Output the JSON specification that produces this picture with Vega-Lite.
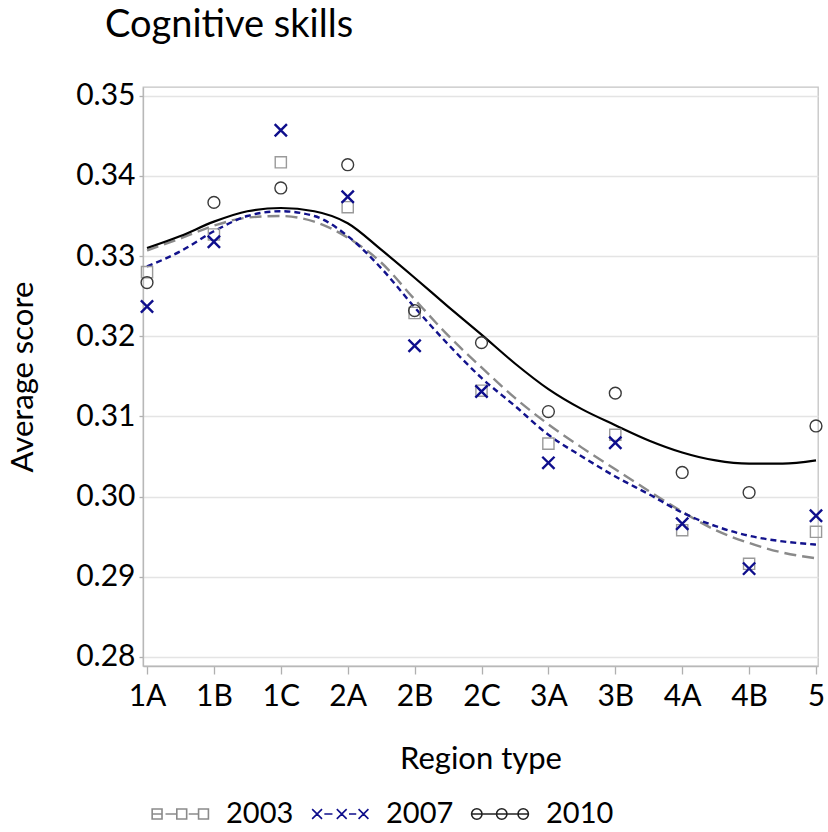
{
  "$schema": "https://vega.github.io/schema/vega-lite/v6.json",
  "width": 675,
  "height": 579,
  "autosize": {"type": "none"},
  "padding": {"left": 143, "top": 87, "right": 10, "bottom": 166},
  "background": "white",
  "title": {
    "text": "Cognitive skills",
    "anchor": "start",
    "frame": "group",
    "dx": -38,
    "offset": 36,
    "font": "Lato",
    "fontSize": 38,
    "fontWeight": "normal",
    "color": "#000000"
  },
  "datasets": {
    "observed": [
      {"region": "1A", "idx": 0, "year": "2003", "score": 0.3280},
      {"region": "1B", "idx": 1, "year": "2003", "score": 0.3327},
      {"region": "1C", "idx": 2, "year": "2003", "score": 0.3417},
      {"region": "2A", "idx": 3, "year": "2003", "score": 0.3361},
      {"region": "2B", "idx": 4, "year": "2003", "score": 0.3229},
      {"region": "2C", "idx": 5, "year": "2003", "score": 0.3132},
      {"region": "3A", "idx": 6, "year": "2003", "score": 0.3066},
      {"region": "3B", "idx": 7, "year": "2003", "score": 0.3077},
      {"region": "4A", "idx": 8, "year": "2003", "score": 0.2958},
      {"region": "4B", "idx": 9, "year": "2003", "score": 0.2916},
      {"region": "5", "idx": 10, "year": "2003", "score": 0.2956},
      {"region": "1A", "idx": 0, "year": "2007", "score": 0.3237},
      {"region": "1B", "idx": 1, "year": "2007", "score": 0.3318},
      {"region": "1C", "idx": 2, "year": "2007", "score": 0.3457},
      {"region": "2A", "idx": 3, "year": "2007", "score": 0.3374},
      {"region": "2B", "idx": 4, "year": "2007", "score": 0.3188},
      {"region": "2C", "idx": 5, "year": "2007", "score": 0.3131},
      {"region": "3A", "idx": 6, "year": "2007", "score": 0.3042},
      {"region": "3B", "idx": 7, "year": "2007", "score": 0.3067},
      {"region": "4A", "idx": 8, "year": "2007", "score": 0.2966},
      {"region": "4B", "idx": 9, "year": "2007", "score": 0.2910},
      {"region": "5", "idx": 10, "year": "2007", "score": 0.2976},
      {"region": "1A", "idx": 0, "year": "2010", "score": 0.3267},
      {"region": "1B", "idx": 1, "year": "2010", "score": 0.3367},
      {"region": "1C", "idx": 2, "year": "2010", "score": 0.3385},
      {"region": "2A", "idx": 3, "year": "2010", "score": 0.3414},
      {"region": "2B", "idx": 4, "year": "2010", "score": 0.3232},
      {"region": "2C", "idx": 5, "year": "2010", "score": 0.3192},
      {"region": "3A", "idx": 6, "year": "2010", "score": 0.3106},
      {"region": "3B", "idx": 7, "year": "2010", "score": 0.3129},
      {"region": "4A", "idx": 8, "year": "2010", "score": 0.3030},
      {"region": "4B", "idx": 9, "year": "2010", "score": 0.3005},
      {"region": "5", "idx": 10, "year": "2010", "score": 0.3088}
    ],
    "fitted": [
      {"idx": 0, "year": "2003", "score": 0.3307},
      {"idx": 0.5, "year": "2003", "score": 0.3322},
      {"idx": 1, "year": "2003", "score": 0.3338},
      {"idx": 1.5, "year": "2003", "score": 0.3348},
      {"idx": 2, "year": "2003", "score": 0.3350},
      {"idx": 2.5, "year": "2003", "score": 0.3343},
      {"idx": 3, "year": "2003", "score": 0.3323},
      {"idx": 3.5, "year": "2003", "score": 0.3292},
      {"idx": 4, "year": "2003", "score": 0.3246},
      {"idx": 4.5, "year": "2003", "score": 0.3201},
      {"idx": 5, "year": "2003", "score": 0.3161},
      {"idx": 5.5, "year": "2003", "score": 0.3123},
      {"idx": 6, "year": "2003", "score": 0.3090},
      {"idx": 6.5, "year": "2003", "score": 0.3061},
      {"idx": 7, "year": "2003", "score": 0.3034},
      {"idx": 7.5, "year": "2003", "score": 0.3007},
      {"idx": 8, "year": "2003", "score": 0.2981},
      {"idx": 8.5, "year": "2003", "score": 0.2958},
      {"idx": 9, "year": "2003", "score": 0.2942},
      {"idx": 9.5, "year": "2003", "score": 0.2930},
      {"idx": 10, "year": "2003", "score": 0.2923},
      {"idx": 0, "year": "2007", "score": 0.3287},
      {"idx": 0.5, "year": "2007", "score": 0.3306},
      {"idx": 1, "year": "2007", "score": 0.3331},
      {"idx": 1.5, "year": "2007", "score": 0.3350},
      {"idx": 2, "year": "2007", "score": 0.3356},
      {"idx": 2.5, "year": "2007", "score": 0.3350},
      {"idx": 3, "year": "2007", "score": 0.3325},
      {"idx": 3.5, "year": "2007", "score": 0.3285},
      {"idx": 4, "year": "2007", "score": 0.3236},
      {"idx": 4.5, "year": "2007", "score": 0.3190},
      {"idx": 5, "year": "2007", "score": 0.3148},
      {"idx": 5.5, "year": "2007", "score": 0.3113},
      {"idx": 6, "year": "2007", "score": 0.3077},
      {"idx": 6.5, "year": "2007", "score": 0.3050},
      {"idx": 7, "year": "2007", "score": 0.3025},
      {"idx": 7.5, "year": "2007", "score": 0.3003},
      {"idx": 8, "year": "2007", "score": 0.2980},
      {"idx": 8.5, "year": "2007", "score": 0.2963},
      {"idx": 9, "year": "2007", "score": 0.2951},
      {"idx": 9.5, "year": "2007", "score": 0.2944},
      {"idx": 10, "year": "2007", "score": 0.2940},
      {"idx": 0, "year": "2010", "score": 0.3310},
      {"idx": 0.5, "year": "2010", "score": 0.3325},
      {"idx": 1, "year": "2010", "score": 0.3343},
      {"idx": 1.5, "year": "2010", "score": 0.3356},
      {"idx": 2, "year": "2010", "score": 0.3360},
      {"idx": 2.5, "year": "2010", "score": 0.3356},
      {"idx": 3, "year": "2010", "score": 0.3341},
      {"idx": 3.5, "year": "2010", "score": 0.3308},
      {"idx": 4, "year": "2010", "score": 0.3273},
      {"idx": 4.5, "year": "2010", "score": 0.3237},
      {"idx": 5, "year": "2010", "score": 0.3202},
      {"idx": 5.5, "year": "2010", "score": 0.3166},
      {"idx": 6, "year": "2010", "score": 0.3134},
      {"idx": 6.5, "year": "2010", "score": 0.3109},
      {"idx": 7, "year": "2010", "score": 0.3089},
      {"idx": 7.5, "year": "2010", "score": 0.3070},
      {"idx": 8, "year": "2010", "score": 0.3055},
      {"idx": 8.5, "year": "2010", "score": 0.3045},
      {"idx": 9, "year": "2010", "score": 0.3041},
      {"idx": 9.5, "year": "2010", "score": 0.3041},
      {"idx": 10, "year": "2010", "score": 0.3045}
    ]
  },
  "config": {
    "font": "Lato",
    "view": {"stroke": "#c4c4c4", "strokeWidth": 1.3},
    "axis": {
      "labelFont": "Lato",
      "titleFont": "Lato",
      "labelColor": "#000000",
      "titleColor": "#000000",
      "labelFontSize": 30,
      "titleFontSize": 31,
      "titleFontWeight": "normal",
      "domainColor": "#b8b8b8",
      "domainWidth": 1.3,
      "tickColor": "#b0b0b0",
      "tickWidth": 1.3
    }
  },
  "encoding": {
    "x": {
      "field": "idx",
      "type": "quantitative",
      "scale": {"domain": [-0.06, 10.03], "nice": false, "zero": false},
      "axis": {
        "title": "Region type",
        "values": [0, 1, 2, 3, 4, 5, 6, 7, 8, 9, 10],
        "labelExpr": "['1A','1B','1C','2A','2B','2C','3A','3B','4A','4B','5'][datum.value]",
        "grid": false,
        "tickSize": 8,
        "labelPadding": 7,
        "labelFlush": false,
        "labelOverlap": false,
        "titlePadding": 33
      }
    },
    "y": {
      "field": "score",
      "type": "quantitative",
      "scale": {"domain": [0.27885, 0.3511], "nice": false, "zero": false},
      "axis": {
        "title": "Average score",
        "values": [0.28, 0.29, 0.30, 0.31, 0.32, 0.33, 0.34, 0.35],
        "format": ".2f",
        "grid": true,
        "gridColor": "#e4e4e4",
        "gridWidth": 1.3,
        "tickSize": 4,
        "labelPadding": 4,
        "labelFlush": false,
        "labelOverlap": false,
        "titlePadding": 36
      }
    }
  },
  "layer": [
    {
      "data": {"name": "fitted"},
      "transform": [{"filter": "datum.year === '2003'"}],
      "mark": {"type": "line", "interpolate": "monotone", "color": "#8a8a8a", "strokeWidth": 2.4, "strokeDash": [12, 6]}
    },
    {
      "data": {"name": "fitted"},
      "transform": [{"filter": "datum.year === '2007'"}],
      "mark": {"type": "line", "interpolate": "monotone", "color": "#12128c", "strokeWidth": 2.4, "strokeDash": [6, 4]}
    },
    {
      "data": {"name": "fitted"},
      "transform": [{"filter": "datum.year === '2010'"}],
      "mark": {"type": "line", "interpolate": "monotone", "color": "#000000", "strokeWidth": 2.2}
    },
    {
      "data": {"name": "observed"},
      "transform": [{"filter": "datum.year === '2003'"}],
      "mark": {"type": "point", "shape": "square", "filled": false, "color": "#9a9a9a", "size": 125, "strokeWidth": 1.4, "opacity": 1}
    },
    {
      "data": {"name": "observed"},
      "transform": [{"filter": "datum.year === '2007'"}],
      "mark": {"type": "point", "shape": "M-1,-1L1,1M-1,1L1,-1", "filled": false, "color": "#0e0e8c", "size": 150, "strokeWidth": 2.4, "opacity": 1}
    },
    {
      "data": {"name": "observed"},
      "transform": [{"filter": "datum.year === '2010'"}],
      "mark": {"type": "point", "shape": "circle", "filled": false, "color": "#3a3a3a", "size": 140, "strokeWidth": 1.4, "opacity": 1}
    },
    {
      "data": {"name": "observed"},
      "mark": {"type": "point", "filled": false, "opacity": 0, "size": 3364},
      "encoding": {
        "shape": {
          "field": "year",
          "type": "nominal",
          "scale": {
            "domain": ["2003", "2007", "2010"],
            "range": [
              "M-0.96,-0.17H-0.62V0.17H-0.96Z M-0.96,0H-0.62 M-0.11,-0.17H0.23V0.17H-0.11Z M0.64,-0.17H0.98V0.17H0.64Z M-0.5,0H-0.11 M0.3,0H0.64",
              "M-0.96,-0.17L-0.62,0.17M-0.96,0.17L-0.62,-0.17 M-0.11,-0.17L0.23,0.17M-0.11,0.17L0.23,-0.17 M0.64,-0.17L0.98,0.17M0.64,0.17L0.98,-0.17 M-0.54,0H-0.26 M0.31,0H0.56",
              "M-0.62,0A0.18,0.18 0 1,0 -0.98,0A0.18,0.18 0 1,0 -0.62,0Z M0.24,0A0.18,0.18 0 1,0 -0.12,0A0.18,0.18 0 1,0 0.24,0Z M0.98,0A0.18,0.18 0 1,0 0.62,0A0.18,0.18 0 1,0 0.98,0Z M-0.98,0H0.98"
            ]
          },
          "legend": {
            "title": null,
            "orient": "none",
            "legendX": 7,
            "legendY": 697,
            "direction": "horizontal",
            "padding": 0,
            "labelFont": "Lato",
            "labelFontSize": 29,
            "labelColor": "#000000",
            "labelOffset": 16,
            "columnPadding": 14,
            "symbolSize": 3364,
            "symbolStrokeWidth": 1.6,
            "symbolOpacity": 1,
            "symbolFillColor": "transparent"
          }
        },
        "color": {
          "field": "year",
          "type": "nominal",
          "scale": {"domain": ["2003", "2007", "2010"], "range": ["#8a8a8a", "#0e0e8c", "#222222"]},
          "legend": {
            "title": null,
            "orient": "none",
            "legendX": 7,
            "legendY": 697,
            "direction": "horizontal",
            "padding": 0,
            "labelFont": "Lato",
            "labelFontSize": 29,
            "labelColor": "#000000",
            "labelOffset": 16,
            "columnPadding": 14,
            "symbolSize": 3364,
            "symbolStrokeWidth": 1.6,
            "symbolOpacity": 1,
            "symbolFillColor": "transparent"
          }
        }
      }
    }
  ]
}
